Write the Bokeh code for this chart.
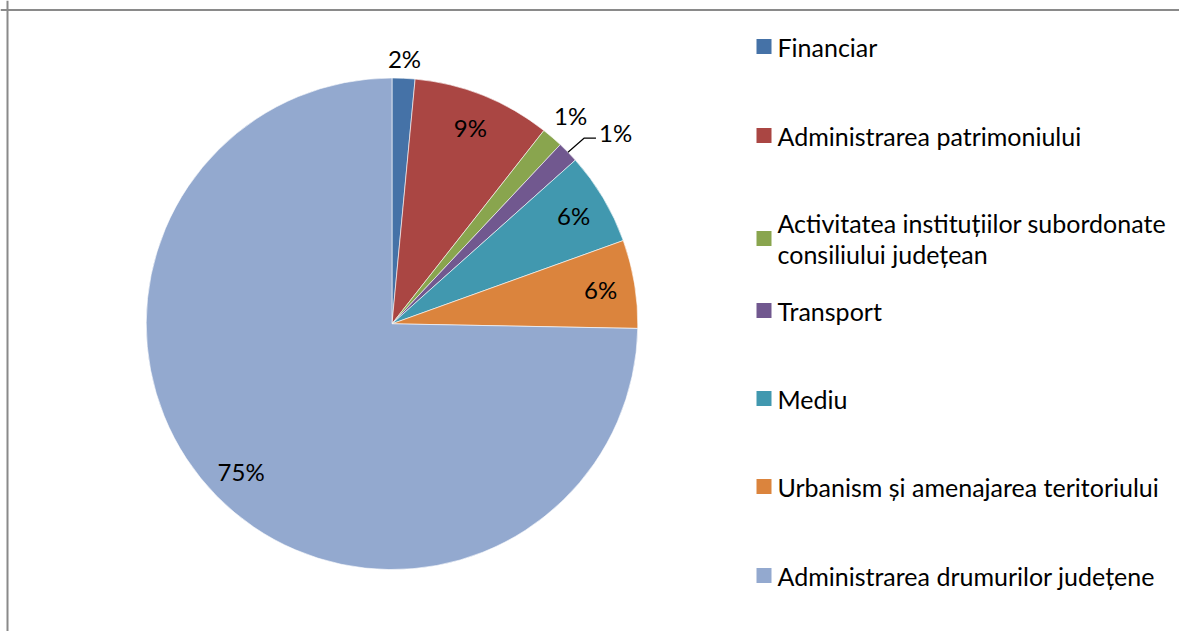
import numpy as np
from bokeh.plotting import figure
from bokeh.models import Range1d, Span
from bokeh.core.properties import value
from bokeh.embed import file_html
from bokeh.resources import INLINE

# ---- data ----
categories = [
    "Financiar",
    "Administrarea patrimoniului",
    "Activitatea instituțiilor subordonate\nconsiliului județean",
    "Transport",
    "Mediu",
    "Urbanism și amenajarea teritoriului",
    "Administrarea drumurilor județene",
]
shares = [1.5, 9.1, 1.4, 1.4, 6.1, 5.8, 74.7]
pct_labels = ["2%", "9%", "1%", "1%", "6%", "6%", "75%"]
colors = ["#4572A7", "#AA4643", "#89A54E", "#71588F", "#4198AF", "#DB843D", "#93A9CF"]

W, H = 1179, 631
FONT = value("Lato")

p = figure(width=W, height=H, output_backend="svg", toolbar_location=None,
           x_range=Range1d(0, W), y_range=Range1d(0, H), min_border=0)
p.axis.visible = False
p.grid.visible = False
p.outline_line_color = None
p.background_fill_color = "white"
p.border_fill_color = "white"

# frame lines (top and left only visible in the reference)
p.add_layout(Span(location=H - 9.5, dimension="width", line_color="#8a8a8a", line_width=2))
p.add_layout(Span(location=7, dimension="height", line_color="#8a8a8a", line_width=2))

# ---- pie ----
cx, cy, R = 391.5, H - 323.3, 245.8
vals = np.array(shares, dtype=float)
frac = vals / vals.sum()
cum = np.concatenate([[0.0], np.cumsum(frac)])
start = np.pi / 2 - 2 * np.pi * cum[:-1]
end = np.pi / 2 - 2 * np.pi * cum[1:]
p.wedge(x=cx, y=cy, radius=R, start_angle=start, end_angle=end,
        direction="clock", fill_color=colors, line_color="white", line_width=0.6)

# data labels
mid = (start + end) / 2
rfac = np.array([1.08, 0.86, 1.115, None, 0.86, 0.86, 0.86], dtype=object)
lx, ly, lt = [], [], []
for i, f in enumerate(rfac):
    if f is None:
        continue
    lx.append(cx + R * f * np.cos(mid[i]))
    ly.append(cy + R * f * np.sin(mid[i]))
    lt.append(pct_labels[i])
p.text(x=lx, y=ly, text=lt, text_font=FONT, text_font_size="24px",
       text_align="center", text_baseline="middle", text_color="black")

# leader line for Transport
i = 3
x0 = cx + R * np.cos(mid[i]); y0 = cy + R * np.sin(mid[i])
x1, y1 = x0 + 16, y0 + 14
x2 = x1 + 12
p.line(x=[x0, x1, x2], y=[y0, y1, y1], line_color="black", line_width=1.2)
p.text(x=[x2 + 3], y=[y1 + 6], text=[pct_labels[i]], text_font=FONT,
       text_font_size="24px", text_align="left", text_baseline="middle",
       text_color="black")

# ---- legend ----
leg_y_win = [46, 135, 238, 310, 398, 486, 575]
ly_leg = [H - y for y in leg_y_win]
p.rect(x=[763.5] * len(categories), y=ly_leg, width=15, height=15,
       fill_color=colors, line_color=None)
p.text(x=[777] * len(categories), y=ly_leg, text=categories, text_font=FONT,
       text_font_size="25px", text_align="left", text_baseline="middle",
       text_color="black", text_line_height=1.06)

open("out.html", "w").write(file_html(p, INLINE))
